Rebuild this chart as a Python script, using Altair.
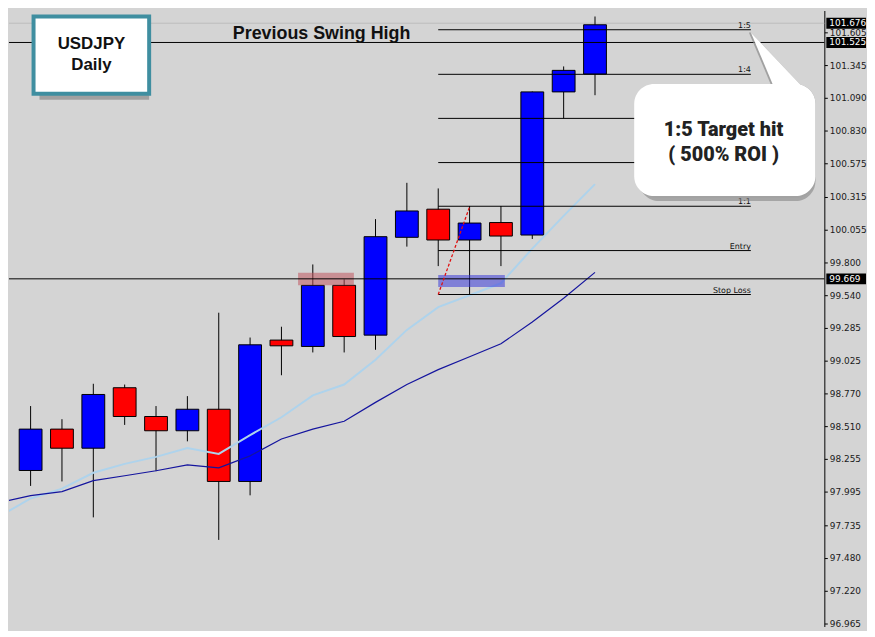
import altair as alt
import pandas as pd

# ---------------- data ----------------
idx = list(range(20))
opens  = [97.648, 98.164, 98.489, 98.339, 98.814, 98.588, 98.476, 98.645, 98.078, 99.188,
          99.138, 99.618, 99.227, 99.995, 100.216, 99.974, 100.111, 100.013, 101.137, 101.277]
highs  = [98.216, 98.670, 98.567, 98.845, 98.839, 98.670, 98.748, 99.403, 99.208, 99.293,
          99.782, 99.665, 100.138, 100.423, 100.379, 100.241, 100.241, 101.140, 101.337, 101.729]
lows   = [97.593, 98.043, 98.078, 97.796, 98.522, 98.159, 98.393, 97.619, 97.969, 98.912,
          99.091, 99.091, 99.112, 99.922, 99.769, 99.546, 99.769, 99.982, 100.929, 101.111]
closes = [98.164, 98.489, 98.339, 98.761, 98.588, 98.476, 98.645, 98.078, 99.151, 99.143,
          99.618, 99.216, 100.000, 100.202, 99.974, 100.107, 100.005, 101.137, 101.306, 101.664]

ma_fast = [97.803, 97.944, 98.022, 98.146, 98.216, 98.271, 98.341, 98.294, 98.442, 98.582,
           98.754, 98.839, 99.034, 99.268, 99.447, 99.540, 99.634, 99.906, 100.163, 100.413]
ma_slow = [97.912, 97.967, 97.998, 98.084, 98.123, 98.162, 98.208, 98.185, 98.279, 98.411,
           98.489, 98.551, 98.699, 98.839, 98.956, 99.057, 99.159, 99.330, 99.517, 99.720]

level_names  = ["1:5", "1:4", "1:3", "1:2", "1:1", "Entry", "Stop Loss"]
level_prices = [101.625, 101.275, 100.929, 100.582, 100.239, 99.891, 99.546]
hidden_labels = ["1:3", "1:2"]          # covered by the speech bubble in the reference
level_start, level_end = 14.0, 23.97

full_lines = [101.525, 99.669]
faint_lines = [101.676]
badge_prices = [101.676, 101.525, 99.669]

tick_vals = [96.965, 97.220, 97.480, 97.735, 97.995, 98.255, 98.510, 98.770, 99.025, 99.285,
             99.540, 99.800, 100.055, 100.315, 100.575, 100.830, 101.090, 101.345, 101.605]

# zones: (x1, x2, p1, p2)
supply_zone = [9.53, 11.31, 99.618, 99.717]
entry_zone = [14.0, 16.125, 99.605, 99.699]
dash_pts = [14.0, 15.01, 99.546, 100.241]

# ---------------- layout ----------------
W, H = 822, 621
BG = "#d4d4d4"
xs = alt.Scale(domain=[0.469, 26.156], nice=False, zero=False)
ys = alt.Scale(domain=[96.939, 101.776], nice=False, zero=False)
yaxis = alt.Axis(orient="right", values=tick_vals, format=".3f", labelFont="DejaVu Sans",
                 labelFontSize=9, labelColor="#1a1a1a", tickColor="black", tickSize=3,
                 domainColor="black", domainWidth=1, grid=False, title=None, labelPadding=2,
                 labelFlush=False, labelOverlap=False)


def X(f):
    return alt.X(f, type="quantitative", scale=xs, axis=None)


def Y(f):
    return alt.Y(f, type="quantitative", scale=ys, axis=yaxis)


cdf = pd.DataFrame({"i": idx, "open": opens, "high": highs, "low": lows, "close": closes})
mdf = pd.DataFrame({"i": idx, "fast": ma_fast, "slow": ma_slow})
ldf = pd.DataFrame({"name": level_names, "p": level_prices,
                    "x1": [level_start] * len(level_names), "x2": [level_end] * len(level_names)})

wick = alt.Chart(cdf).mark_rule(color="black", strokeWidth=1, clip=True).encode(
    x=X("i"), y=Y("low"), y2="high")
body = alt.Chart(cdf).transform_filter("datum.i > 0").mark_bar(
    size=23, stroke="black", strokeWidth=1, clip=True).encode(
    x=X("i"), y=Y("open"), y2="close",
    color=alt.condition("datum.close > datum.open", alt.value("#0000ff"), alt.value("#ff0000")))

fast = alt.Chart(mdf).mark_line(color="#aed3ec", strokeWidth=2, clip=True).encode(x=X("i"), y=Y("fast"))
slow = alt.Chart(mdf).mark_line(color="#14149e", strokeWidth=1.2, clip=True).encode(x=X("i"), y=Y("slow"))

faint = alt.Chart(pd.DataFrame({"p": faint_lines})).mark_rule(color="#bcbcbc", strokeWidth=1).encode(y=Y("p"))
full = alt.Chart(pd.DataFrame({"p": full_lines})).mark_rule(color="black", strokeWidth=1).encode(y=Y("p"))

lvl = alt.Chart(ldf).mark_rule(color="black", strokeWidth=1).encode(x=X("x1"), x2="x2", y=Y("p"))
lvl_txt = alt.Chart(ldf).transform_filter(
    {"not": alt.FieldOneOfPredicate(field="name", oneOf=hidden_labels)}
).mark_text(align="right", baseline="alphabetic", dy=-2, font="DejaVu Sans",
            fontSize=8, color="#111111").encode(x=X("x2"), y=Y("p"), text="name")

zdf = pd.DataFrame({"x1": [supply_zone[0], entry_zone[0]], "x2": [supply_zone[1], entry_zone[1]],
                    "p1": [supply_zone[2], entry_zone[2]], "p2": [supply_zone[3], entry_zone[3]],
                    "c": ["#c0555e", "#3a3ad8"]})
zones = alt.Chart(zdf).mark_rect(opacity=0.55).encode(
    x=X("x1"), x2="x2", y=Y("p1"), y2="p2", color=alt.Color("c:N", scale=None))

ddf = pd.DataFrame({"x1": [dash_pts[0]], "x2": [dash_pts[1]], "p1": [dash_pts[2]], "p2": [dash_pts[3]]})
dash = alt.Chart(ddf).mark_rule(color="#e01010", strokeWidth=1.3, strokeDash=[3, 2]).encode(
    x=X("x1"), x2="x2", y=Y("p1"), y2="p2")

# title box "USDJPY Daily"
bdf = pd.DataFrame({"x1": [1.094], "x2": [4.781], "p1": [101.122], "p2": [101.729]})
box_sh = alt.Chart(bdf).mark_rect(color="#8a8a8a", opacity=0.7, xOffset=6, yOffset=6).encode(
    x=X("x1"), x2="x2", y=Y("p1"), y2="p2")
box = alt.Chart(bdf).mark_rect(fill="white", stroke="#3f8ea0", strokeWidth=4).encode(
    x=X("x1"), x2="x2", y=Y("p1"), y2="p2")

tdf = pd.DataFrame({"t": ["USDJPY", "Daily", "Previous Swing High"],
                    "x": [2.94, 2.94, 10.28], "p": [101.472, 101.308, 101.550],
                    "s": [17, 17, 18]})
titles = alt.Chart(tdf).mark_text(font="Liberation Sans", fontWeight="bold", baseline="alphabetic",
                                  align="center", color="#111111").encode(
    x=X("x"), y=Y("p"), text="t", size=alt.Size("s:Q", scale=None, legend=None))

# speech bubble
bub = pd.DataFrame({"x1": [20.25], "x2": [26.03], "p1": [100.319], "p2": [101.199]})
bub_sh1 = alt.Chart(bub).mark_rect(color="#7d7d7d", opacity=0.55, cornerRadius=20, xOffset=5, yOffset=5).encode(
    x=X("x1"), x2="x2", y=Y("p1"), y2="p2")
bub_sh2 = alt.Chart(bub).mark_rect(color="#a0a0a0", opacity=0.6, cornerRadius=20, xOffset=2, yOffset=2).encode(
    x=X("x1"), x2="x2", y=Y("p1"), y2="p2")
bub_box = alt.Chart(bub).mark_rect(color="white", cornerRadius=20).encode(
    x=X("x1"), x2="x2", y=Y("p1"), y2="p2")

tail_df = pd.DataFrame({"tp": [101.604, 101.184], "xa": [23.97, 24.69], "xb": [23.97, 25.59]})
tail_sh = alt.Chart(tail_df).mark_area(orient="horizontal", color="#8c8c8c", opacity=0.7, xOffset=-2).encode(
    y=Y("tp"), x=X("xa"), x2="xb")
tail = alt.Chart(tail_df).mark_area(orient="horizontal", color="white").encode(
    y=Y("tp"), x=X("xa"), x2="xb")

btxt = pd.DataFrame({"t": ["1:5 Target hit", "( 500% ROI )"], "x": [23.1, 23.1], "p": [100.787, 100.592]})
bub_txt = alt.Chart(btxt).mark_text(font="Roboto", fontWeight=900, fontSize=20, baseline="alphabetic",
                                    align="center", color="#222222").encode(x=X("x"), y=Y("p"), text="t")

# price badges on the axis
badf = pd.DataFrame({"p": badge_prices})
badge = alt.Chart(badf).mark_tick(orient="horizontal", thickness=11, size=40, color="black", opacity=1).encode(
    y=Y("p"), x=alt.value(W + 22))
badge_txt = alt.Chart(badf).mark_text(align="left", baseline="middle", color="white", font="DejaVu Sans",
                                      fontSize=9).encode(y=Y("p"), x=alt.value(W + 5),
                                                         text=alt.Text("p:Q", format=".3f"))

chart = alt.layer(
    faint, wick, body, fast, slow, zones, full, lvl, dash, lvl_txt,
    box_sh, box, titles, bub_sh1, bub_sh2, tail_sh, tail, bub_box, bub_txt, badge, badge_txt
).properties(width=W, height=H, background=BG, padding=0).configure_view(fill=BG, stroke=None)

chart.save("out.html", embed_options={"renderer": "svg", "actions": False})
